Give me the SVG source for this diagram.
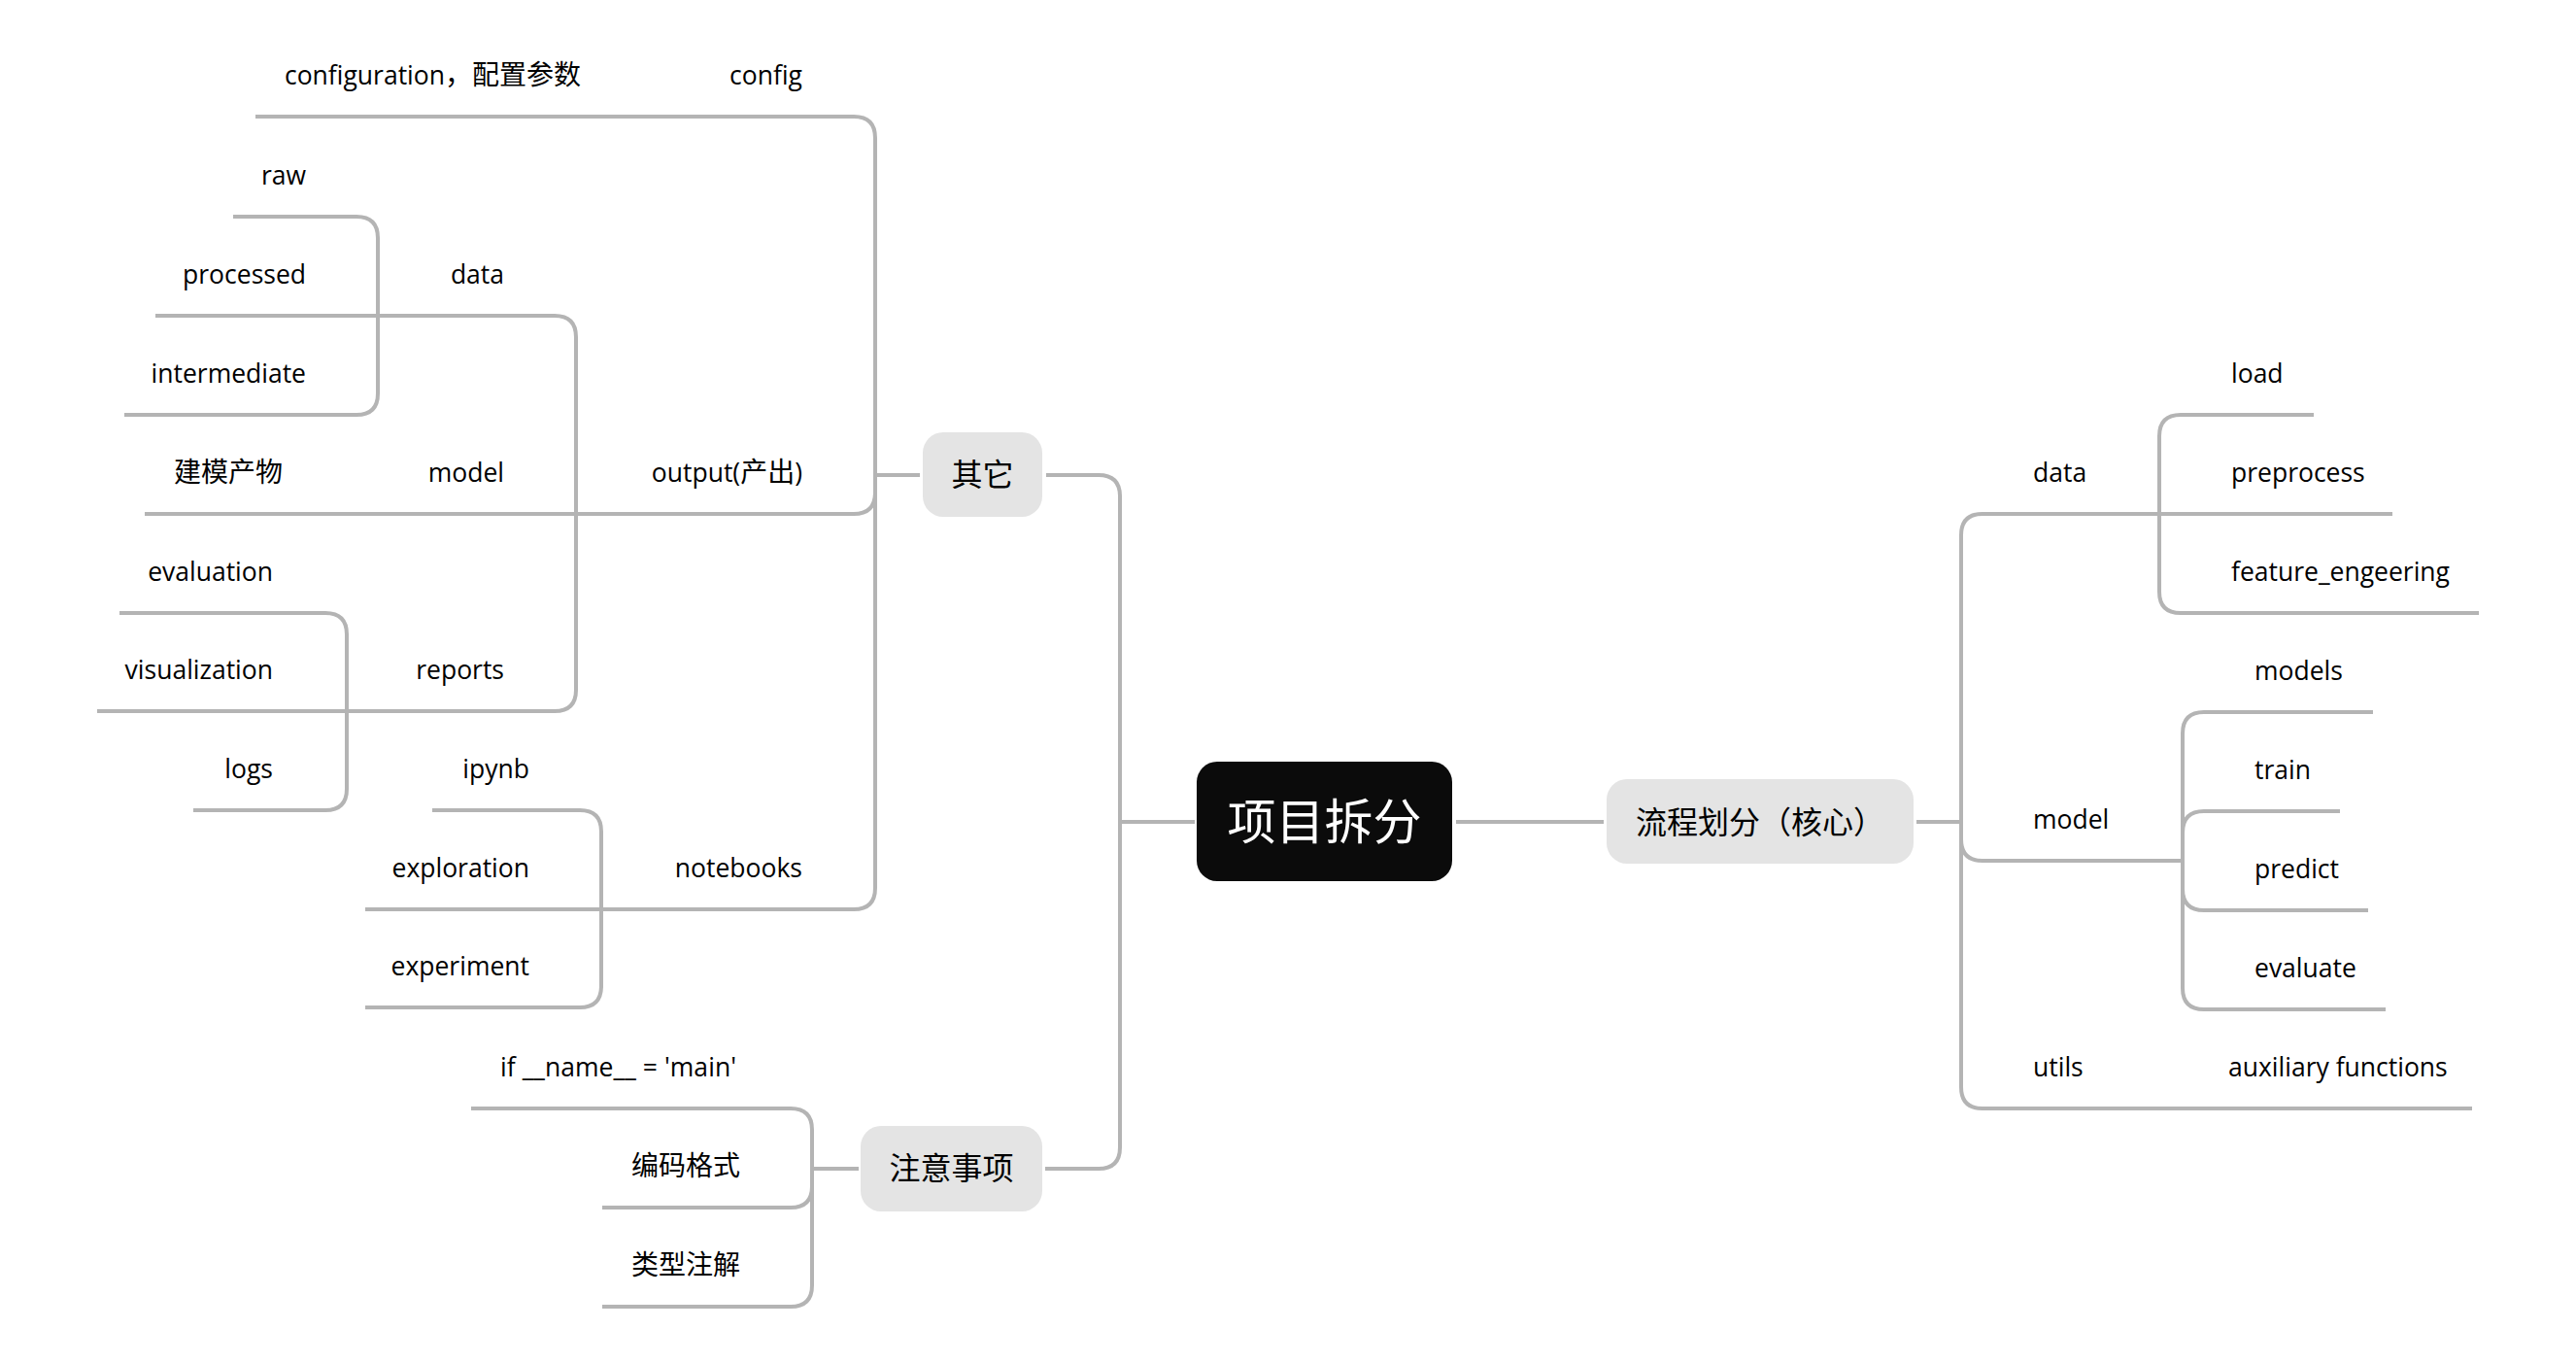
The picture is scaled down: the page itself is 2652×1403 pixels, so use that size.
<svg xmlns="http://www.w3.org/2000/svg" width="2652" height="1403" viewBox="0 0 2652 1403">
<style>
.bg{fill:#ffffff}
.ln{fill:none;stroke:#b4b4b4;stroke-width:4}
.t{font-family:"Open Sans","Noto Sans CJK SC",sans-serif;font-size:26.5px;fill:#000}
.e{text-anchor:end}
.c{font-family:"Noto Sans CJK SC",sans-serif;font-size:28px}
.m{font-family:"Noto Sans CJK SC",sans-serif;font-size:32px;fill:#000;text-anchor:middle}
.box{fill:#e4e4e4}
.root{fill:#0b0b0b}
.rt{font-family:"Noto Sans CJK SC",sans-serif;font-size:50px;fill:#ffffff;text-anchor:middle}
</style>
<rect class="bg" x="0" y="0" width="2652" height="1403"/>
<g id="connectors">
<path class="ln" d="M1499 846H1651"/>
<path class="ln" d="M1973 846H2019"/>
<path class="ln" d="M1230 846H1153"/>
<path class="ln" d="M1153 846V511Q1153 489 1131 489H1077"/>
<path class="ln" d="M1153 846V1181Q1153 1203 1131 1203H1076"/>
<path class="ln" d="M947 489H901"/>
<path class="ln" d="M901 489V142Q901 120 879 120H263"/>
<path class="ln" d="M901 489V507Q901 529 879 529H593"/>
<path class="ln" d="M901 489V914Q901 936 879 936H619"/>
<path class="ln" d="M593 529V347Q593 325 571 325H389"/>
<path class="ln" d="M593 529H149"/>
<path class="ln" d="M593 529V710Q593 732 571 732H357"/>
<path class="ln" d="M389 325V245Q389 223 367 223H240"/>
<path class="ln" d="M389 325H160"/>
<path class="ln" d="M389 325V405Q389 427 367 427H128"/>
<path class="ln" d="M357 732V653Q357 631 335 631H123"/>
<path class="ln" d="M357 732H100"/>
<path class="ln" d="M357 732V812Q357 834 335 834H199"/>
<path class="ln" d="M619 936V856Q619 834 597 834H445"/>
<path class="ln" d="M619 936H376"/>
<path class="ln" d="M619 936V1015Q619 1037 597 1037H376"/>
<path class="ln" d="M884 1203H836"/>
<path class="ln" d="M836 1203V1163Q836 1141 814 1141H485"/>
<path class="ln" d="M836 1203V1221Q836 1243 814 1243H620"/>
<path class="ln" d="M836 1203V1323Q836 1345 814 1345H620"/>
<path class="ln" d="M2019 846V551Q2019 529 2041 529H2223"/>
<path class="ln" d="M2019 846V864Q2019 886 2041 886H2247"/>
<path class="ln" d="M2019 846V1119Q2019 1141 2041 1141H2545"/>
<path class="ln" d="M2223 529V449Q2223 427 2245 427H2382"/>
<path class="ln" d="M2223 529H2463"/>
<path class="ln" d="M2223 529V609Q2223 631 2245 631H2552"/>
<path class="ln" d="M2247 886V755Q2247 733 2269 733H2443"/>
<path class="ln" d="M2247 886V857Q2247 835 2269 835H2409"/>
<path class="ln" d="M2247 886V915Q2247 937 2269 937H2438"/>
<path class="ln" d="M2247 886V1017Q2247 1039 2269 1039H2456"/>
</g>
<g id="root">
<rect class="root" x="1232" y="784" width="263" height="123" rx="21"/>
<text class="rt" x="1363.5" y="864">项目拆分</text>
</g>
<g id="flow">
<rect class="box" x="1654" y="802" width="316" height="87" rx="21"/>
<text class="m" x="1812" y="858">流程划分（核心）</text>
</g>
<g id="other">
<rect class="box" x="950" y="445" width="123" height="87" rx="21"/>
<text class="m" x="1011.5" y="500">其它</text>
</g>
<g id="notes">
<rect class="box" x="886" y="1159" width="187" height="88" rx="21"/>
<text class="m" x="979.5" y="1214">注意事项</text>
</g>
<g id="config"><text class="t e" x="826" y="87">config</text></g>
<g id="config-desc"><text class="t e" x="598" y="87">configuration<tspan class="c">，配置参数</tspan></text></g>
<g id="output"><text class="t e" x="826" y="496">output(<tspan class="c">产出</tspan>)</text></g>
<g id="notebooks"><text class="t e" x="826" y="903">notebooks</text></g>
<g id="out-data"><text class="t e" x="519" y="292">data</text></g>
<g id="out-model"><text class="t e" x="519" y="496">model</text></g>
<g id="out-reports"><text class="t e" x="519" y="699">reports</text></g>
<g id="model-artifacts"><text class="t e c" x="291" y="496">建模产物</text></g>
<g id="raw"><text class="t e" x="315" y="190">raw</text></g>
<g id="processed"><text class="t e" x="315" y="292">processed</text></g>
<g id="intermediate"><text class="t e" x="315" y="394">intermediate</text></g>
<g id="evaluation"><text class="t e" x="281" y="598">evaluation</text></g>
<g id="visualization"><text class="t e" x="281" y="699">visualization</text></g>
<g id="logs"><text class="t e" x="281" y="801">logs</text></g>
<g id="ipynb"><text class="t e" x="545" y="801">ipynb</text></g>
<g id="exploration"><text class="t e" x="545" y="903">exploration</text></g>
<g id="experiment"><text class="t e" x="545" y="1004">experiment</text></g>
<g id="ifmain"><text class="t" x="515" y="1108" textLength="243" lengthAdjust="spacing">if __name__ = 'main'</text></g>
<g id="encoding"><text class="t e c" x="762" y="1210">编码格式</text></g>
<g id="typehint"><text class="t e c" x="762" y="1312">类型注解</text></g>
<g id="r-data"><text class="t" x="2093" y="496">data</text></g>
<g id="r-model"><text class="t" x="2093" y="853">model</text></g>
<g id="r-utils"><text class="t" x="2093" y="1108">utils</text></g>
<g id="aux"><text class="t" x="2294" y="1108">auxiliary functions</text></g>
<g id="load"><text class="t" x="2297" y="394">load</text></g>
<g id="preprocess"><text class="t" x="2297" y="496">preprocess</text></g>
<g id="feature"><text class="t" x="2297" y="598">feature_engeering</text></g>
<g id="models"><text class="t" x="2321" y="700">models</text></g>
<g id="train"><text class="t" x="2321" y="802">train</text></g>
<g id="predict"><text class="t" x="2321" y="904">predict</text></g>
<g id="evaluate"><text class="t" x="2321" y="1006">evaluate</text></g>
</svg>
